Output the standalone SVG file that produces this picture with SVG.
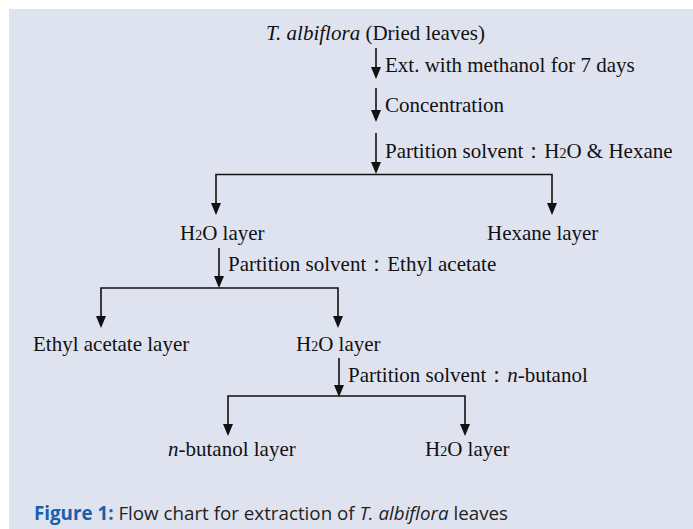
<svg xmlns="http://www.w3.org/2000/svg" width="693" height="529" viewBox="0 0 693 529">
<defs>
<style>
.t{font-family:"Liberation Serif","Times New Roman",serif;font-size:21px;fill:#111;}
.s{font-size:14px;}
.c{font-family:"Open Sans","Noto Sans",sans-serif;font-size:19px;fill:#222;}
.cb{font-weight:bold;fill:#1B5FAA;}
.ln{stroke:#111;stroke-width:1.6;fill:none;}
.ah{fill:#111;}
</style>
</defs>
<rect x="0" y="0" width="693" height="529" fill="#ffffff"/>
<rect x="9" y="9" width="684" height="520" fill="#DFE3F0"/>

<g id="connectors">
<path class="ln" d="M376,48 V77"/>
<path class="ah" d="M371,67 L381,67 L376,79 Z"/>
<path class="ln" d="M376,88 V120"/>
<path class="ah" d="M371,110 L381,110 L376,122 Z"/>
<path class="ln" d="M376,133 V172"/>
<path class="ah" d="M371,162 L381,162 L376,174 Z"/>
<path class="ln" d="M216,213 V174.5 H552 V213"/>
<path class="ah" d="M211,203 L221,203 L216,215 Z"/>
<path class="ah" d="M547,203 L557,203 L552,215 Z"/>
<path class="ln" d="M219,248 V285"/>
<path class="ah" d="M214,276 L224,276 L219,288 Z"/>
<path class="ln" d="M101,326 V288 H338 V326"/>
<path class="ah" d="M96,316 L106,316 L101,328 Z"/>
<path class="ah" d="M333,316 L343,316 L338,328 Z"/>
<path class="ln" d="M339,358 V394"/>
<path class="ah" d="M334,385 L344,385 L339,397 Z"/>
<path class="ln" d="M228,434 V396 H465 V434"/>
<path class="ah" d="M223,424 L233,424 L228,436 Z"/>
<path class="ah" d="M460,424 L470,424 L465,436 Z"/>
</g>

<g id="edge-labels">
<text class="t" x="385" y="72">Ext. with methanol for 7 days</text>
<text class="t" x="385" y="112">Concentration</text>
<text class="t" x="385" y="158">Partition solvent：H<tspan class="s">2</tspan>O &amp; Hexane</text>
<text class="t" x="228" y="271">Partition solvent：Ethyl acetate</text>
<text class="t" x="348" y="382">Partition solvent：<tspan font-style="italic">n</tspan>-butanol</text>
</g>

<g id="node-start"><text class="t" x="266" y="40"><tspan font-style="italic">T. albiflora</tspan> (Dried leaves)</text></g>
<g id="node-h2o-1"><text class="t" x="180" y="240">H<tspan class="s">2</tspan>O layer</text></g>
<g id="node-hexane"><text class="t" x="487" y="240">Hexane layer</text></g>
<g id="node-ethyl"><text class="t" x="33" y="351">Ethyl acetate layer</text></g>
<g id="node-h2o-2"><text class="t" x="296" y="351">H<tspan class="s">2</tspan>O layer</text></g>
<g id="node-butanol"><text class="t" x="168" y="456"><tspan font-style="italic">n</tspan>-butanol layer</text></g>
<g id="node-h2o-3"><text class="t" x="425" y="456">H<tspan class="s">2</tspan>O layer</text></g>

<g id="caption"><text class="c" x="34" y="520" textLength="474" lengthAdjust="spacingAndGlyphs"><tspan class="cb">Figure 1:</tspan> Flow chart for extraction of <tspan font-style="italic">T. albiflora</tspan> leaves</text></g>
</svg>
